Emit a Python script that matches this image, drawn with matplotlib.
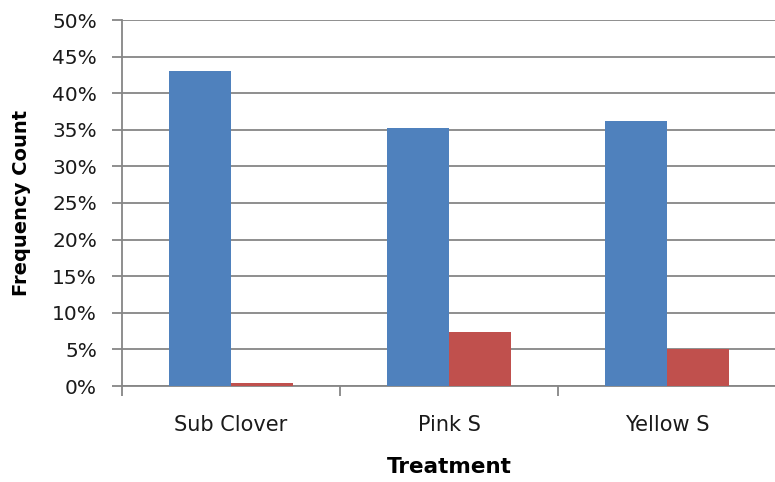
import numpy as np
import matplotlib
matplotlib.use("Agg")
from matplotlib import pyplot as plt
from matplotlib.ticker import FuncFormatter

# data
treatments = ["Sub Clover", "Pink S", "Yellow S"]
series_blue = [43.0, 35.3, 36.2]
series_red = [0.4, 7.4, 5.0]

plt.rcParams['font.family'] = ['DejaVu Sans']

fig = plt.figure(figsize=(7.75, 4.82), dpi=100)
ax = fig.add_axes([122 / 775, 96 / 482, 654 / 775, 366 / 482])

x = np.arange(len(treatments))
w = 0.285
ax.bar(x - w / 2, series_blue, width=w, color="#4F81BD", zorder=3)
ax.bar(x + w / 2, series_red, width=w, color="#C0504D", zorder=3)

ax.set_ylim(0, 50)
ax.set_xlim(-0.5, 2.5)
ax.set_yticks(np.arange(0, 51, 5))
ax.yaxis.set_major_formatter(FuncFormatter(lambda v, p: f"{int(v)}%"))
ax.yaxis.grid(True, color="#868686", linewidth=1.3, zorder=0)

# category boundaries as major ticks, labels as minor ticks
ax.set_xticks([-0.5, 0.5, 1.5, 2.5])
ax.set_xticklabels([])
ax.set_xticks(x, minor=True)
ax.set_xticklabels(treatments, minor=True)
ax.tick_params(axis="x", which="minor", length=0, pad=21, labelsize=15, colors="#1a1a1a")
ax.tick_params(axis="x", which="major", length=7, width=1.3, color="#868686")
ax.tick_params(axis="y", length=7, width=1.3, color="#868686", labelsize=14.5,
               pad=11, labelcolor="#1a1a1a")

for s in ["top", "right"]:
    ax.spines[s].set_visible(False)
for s in ["left", "bottom"]:
    ax.spines[s].set_color("#868686")
    ax.spines[s].set_linewidth(1.3)

ax.set_xlabel("Treatment", fontsize=15.5, fontweight="bold", labelpad=16)
ax.set_ylabel("Frequency Count", fontsize=14, fontweight="bold", labelpad=15)

fig.savefig("out.png", dpi=100)
